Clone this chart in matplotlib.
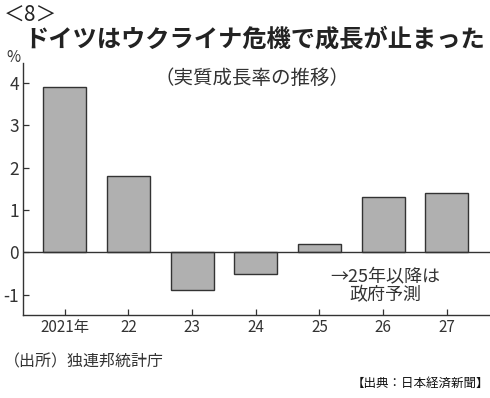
import matplotlib
matplotlib.use("Agg")
import matplotlib.pyplot as plt

plt.rcParams['font.family'] = ['Noto Sans CJK JP', 'DejaVu Sans']

# 実質成長率（%）
years = ["2021年", "22", "23", "24", "25", "26", "27"]
growth = [3.9, 1.8, -0.9, -0.5, 0.2, 1.3, 1.4]
y_ticks = [-1, 0, 1, 2, 3, 4]

fig = plt.figure(figsize=(4.9, 3.98), dpi=100)
ax = fig.add_axes([0.047, 0.2085, 0.953, 0.634])

x = range(len(years))
ax.bar(x, growth, width=0.675, color="#b0b0b0", edgecolor="#333333", linewidth=1.0, zorder=2)
ax.axhline(0, color="#333333", linewidth=1.0, zorder=3)

ax.set_xlim(-0.656, 6.68)
ax.set_ylim(-1.48, 4.48)
ax.set_xticks(list(x))
ax.set_xticklabels(years, fontsize=11, color="#333333")
ax.set_yticks(y_ticks)
ax.set_yticklabels([str(v) for v in y_ticks], fontsize=12.5, color="#333333")
ax.tick_params(axis="both", direction="in", length=4, width=0.9, colors="#333333", pad=3)
for s in ["top", "right"]:
    ax.spines[s].set_visible(False)
for s in ["left", "bottom"]:
    ax.spines[s].set_color("#333333")
    ax.spines[s].set_linewidth(1.0)

fig.text(0.008, 0.962, "＜8＞", fontsize=15, va="center", ha="left", color="#222222")
fig.text(0.52, 0.9, "ドイツはウクライナ危機で成長が止まった", fontsize=17.5,
         fontweight="bold", va="center", ha="center", color="#222222")
fig.text(0.515, 0.804, "（実質成長率の推移）", fontsize=14, va="center", ha="center", color="#333333")
fig.text(0.012, 0.855, "%", fontsize=11, va="center", ha="left", color="#333333")

ax.text(5.04, -0.785, "→25年以降は\n政府予測", fontsize=13, va="center", ha="center",
        color="#333333", linespacing=1.05)

fig.text(0.008, 0.09, "（出所）独連邦統計庁", fontsize=11.5, va="center", ha="left", color="#333333")
fig.text(0.998, 0.037, "【出典：日本経済新聞】", fontsize=9, va="center", ha="right", color="#111111")

fig.savefig("out.png", dpi=100, facecolor="white")
